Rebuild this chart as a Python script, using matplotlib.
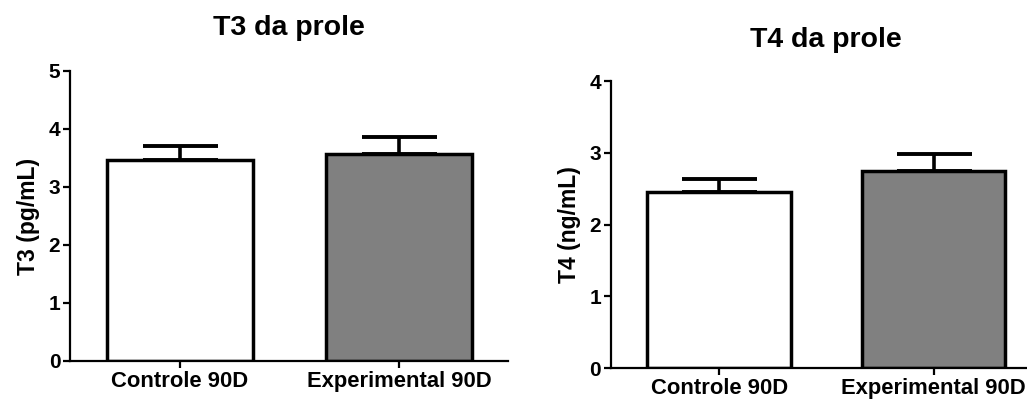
import matplotlib
matplotlib.use("Agg")
import matplotlib.pyplot as plt

categories = ["Controle 90D", "Experimental 90D"]
t3_means = [3.47, 3.57]
t3_sem = [0.24, 0.30]
t4_means = [2.45, 2.75]
t4_sem = [0.18, 0.23]
bar_colors = ["white", "#808080"]

plt.rcParams['font.family'] = ['Liberation Sans', 'DejaVu Sans']
plt.rcParams['font.weight'] = 'bold'

fig = plt.figure(figsize=(10.27, 4.01), dpi=100)
ax1 = fig.add_axes([0.0682, 0.0998, 0.4264, 0.7232])
ax2 = fig.add_axes([0.5946, 0.0815, 0.4054, 0.7165])

def draw(ax, means, sems, ylabel, title, ylim, xlim, title_x, title_y):
    x = list(range(len(categories)))
    ax.bar(x, means, width=0.67, color=bar_colors, edgecolor="black",
           linewidth=2.5, zorder=2)
    ax.errorbar(x, means, yerr=[[0] * len(sems), sems], fmt="none",
                ecolor="black", elinewidth=2.6, capsize=27, capthick=2.8,
                zorder=3)
    ax.set_xlim(*xlim)
    ax.set_ylim(0, ylim)
    ax.set_yticks(range(0, ylim + 1))
    ax.set_xticks(x)
    ax.set_xticklabels(categories, fontsize=15.8, fontweight='bold')
    for lab in ax.get_yticklabels():
        lab.set_fontsize(15)
        lab.set_fontweight('bold')
    ax.set_ylabel(ylabel, fontsize=16.5, fontweight='bold', labelpad=6)
    ax.set_title(title, fontsize=20.5, fontweight='bold', x=title_x, y=title_y)
    for s in ["top", "right"]:
        ax.spines[s].set_visible(False)
    for s in ["left", "bottom"]:
        ax.spines[s].set_linewidth(1.6)
    ax.tick_params(axis="both", direction="out", length=5, width=1.6, pad=2)

draw(ax1, t3_means, t3_sem, "T3 (pg/mL)", "T3 da prole", 5, (-0.502, 1.498), 0.5, 1.094)
draw(ax2, t4_means, t4_sem, "T4 (ng/mL)", "T4 da prole", 4, (-0.506, 1.436), 0.517, 1.09)

fig.savefig("out.png", dpi=100)
